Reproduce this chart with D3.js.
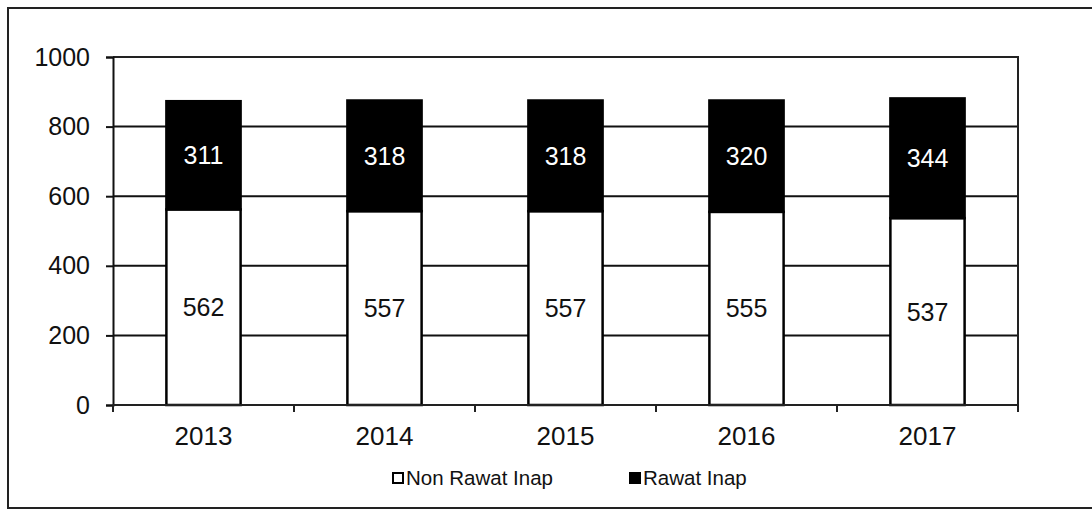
<!DOCTYPE html>
<html>
<head>
<meta charset="utf-8">
<script src="https://cdn.jsdelivr.net/npm/d3@7"></script>
<style>
	body { margin:0; background:#fff; }
	svg { display:block; font-family:"Liberation Sans", Arial, sans-serif; }
</style>
</head>
<body>
<div id="chart"></div>
<script>
const years = ['2013','2014','2015','2016','2017'];
const nonRawatInap = [562, 557, 557, 555, 537];
const rawatInap = [311, 318, 318, 320, 344];
const seriesNames = ['Non Rawat Inap','Rawat Inap'];
const yTicks = [0, 200, 400, 600, 800, 1000];

const width = 1092, height = 511;
const margin = {t:57, r:74, b:106, l:113};
const w = width - margin.l - margin.r;
const h = height - margin.t - margin.b;

const svg = d3.select('#chart').append('svg')
	.attr('width',width)
	.attr('height',height);

//outer frame (right side runs off the scan)
svg.append('rect')
	.attr('x',8).attr('y',8)
	.attr('width',1100).attr('height',500)
	.style('fill','none')
	.style('stroke','#222')
	.style('stroke-width',2);

const plot = svg.append('g')
	.attr('transform',`translate(${margin.l},${margin.t})`);

//rows for the stack
const rows = years.map((y,i) => ({year:y, 'Non Rawat Inap':nonRawatInap[i], 'Rawat Inap':rawatInap[i]}));
const stacked = d3.stack().keys(seriesNames)(rows);

const scaleX = d3.scaleBand().domain(years).range([0,w]).paddingInner(0.59).paddingOuter(0.295);
const scaleY = d3.scaleLinear().domain([0,1000]).range([h,0]);
const step = scaleX.step();

//gridlines
plot.selectAll('.grid')
	.data(yTicks.filter(d => d > 0 && d < 1000))
	.enter().append('line')
	.attr('class','grid')
	.attr('x1',0).attr('x2',w)
	.attr('y1',d => scaleY(d)).attr('y2',d => scaleY(d))
	.style('stroke','#111')
	.style('stroke-width',2);

//plot border top + right
plot.append('path')
	.attr('d',`M0,${scaleY(1000)}H${w}V${h}`)
	.style('fill','none')
	.style('stroke','#222')
	.style('stroke-width',2);

//bars
const fills = {'Non Rawat Inap':'#fff','Rawat Inap':'#000'};
const layers = plot.selectAll('.layer')
	.data(stacked)
	.enter().append('g')
	.attr('class','layer');

layers.selectAll('rect')
	.data(d => d.map(p => ({key:d.key, p:p})))
	.enter().append('rect')
	.attr('x',d => scaleX(d.p.data.year))
	.attr('width',scaleX.bandwidth())
	.attr('y',d => scaleY(d.p[1]))
	.attr('height',d => scaleY(d.p[0]) - scaleY(d.p[1]))
	.style('fill',d => fills[d.key])
	.style('stroke','#000')
	.style('stroke-width',2.5);

layers.selectAll('text')
	.data(d => d.map(p => ({key:d.key, p:p})))
	.enter().append('text')
	.attr('x',d => scaleX(d.p.data.year) + scaleX.bandwidth()/2)
	.attr('y',d => (scaleY(d.p[0]) + scaleY(d.p[1]))/2)
	.attr('dy','0.36em')
	.attr('text-anchor','middle')
	.style('font-size','25px')
	.style('fill',d => d.key === 'Rawat Inap' ? '#fff' : '#111')
	.text(d => d.p[1] - d.p[0]);

//axis y
const axisY = d3.axisLeft(scaleY)
	.tickValues(yTicks)
	.tickFormat(d3.format('d'))
	.tickSize(7)
	.tickPadding(16);
const axisYNode = plot.append('g').attr('class','axis axis-y').call(axisY);
axisYNode.select('.domain').style('stroke','#111').style('stroke-width',2);
axisYNode.selectAll('.tick line').style('stroke','#111').style('stroke-width',2);
axisYNode.selectAll('.tick text')
	.style('font-size','25px')
	.style('fill','#111')
	.style('font-family','"Liberation Sans", Arial, sans-serif');

//axis x: baseline, boundary ticks, labels
const axisXNode = plot.append('g')
	.attr('class','axis axis-x')
	.attr('transform',`translate(0,${h})`);
axisXNode.append('line')
	.attr('x1',0).attr('x2',w)
	.style('stroke','#222')
	.style('stroke-width',2);
axisXNode.selectAll('.xtick')
	.data(d3.range(years.length + 1))
	.enter().append('line')
	.attr('class','xtick')
	.attr('x1',i => i*step).attr('x2',i => i*step)
	.attr('y1',0).attr('y2',7)
	.style('stroke','#222')
	.style('stroke-width',2);
axisXNode.selectAll('.xlabel')
	.data(years)
	.enter().append('text')
	.attr('class','xlabel')
	.attr('x',d => scaleX(d) + scaleX.bandwidth()/2)
	.attr('y',31)
	.attr('dy','0.36em')
	.attr('text-anchor','middle')
	.style('font-size','26px')
	.style('fill','#111')
	.text(d => d);

//legend
const legendX = [393, 630];
const legend = svg.selectAll('.legend')
	.data(seriesNames)
	.enter().append('g')
	.attr('class','legend')
	.attr('transform',(d,i) => `translate(${legendX[i]},478)`);
legend.append('rect')
	.attr('x',0).attr('y',-5)
	.attr('width',10).attr('height',10)
	.style('fill',d => fills[d])
	.style('stroke','#000')
	.style('stroke-width',2);
legend.append('text')
	.attr('x',13)
	.attr('dy','0.36em')
	.style('font-size','20.5px')
	.style('fill','#111')
	.text(d => d);
</script>
</body>
</html>
